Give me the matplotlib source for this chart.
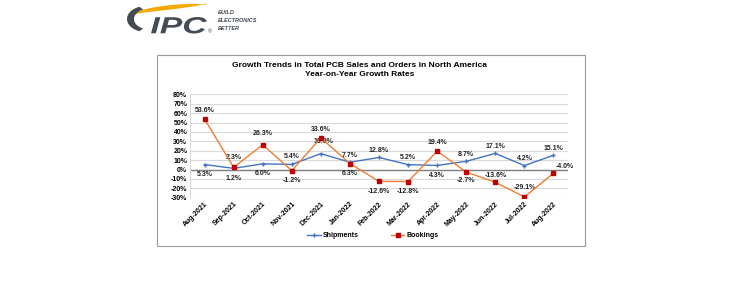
import numpy as np
import matplotlib
matplotlib.use("Agg")
import matplotlib.pyplot as plt
from matplotlib.patches import Rectangle, Polygon, PathPatch
from matplotlib.textpath import TextPath
from matplotlib.font_manager import FontProperties
from matplotlib.transforms import Affine2D

plt.rcParams['font.family'] = ['Liberation Sans', 'DejaVu Sans']

# data
months = ['Aug-2021', 'Sep-2021', 'Oct-2021', 'Nov-2021', 'Dec-2021', 'Jan-2022',
          'Feb-2022', 'Mar-2022', 'Apr-2022', 'May-2022', 'Jun-2022', 'Jul-2022',
          'Aug-2022']
shipments = [5.3, 1.2, 6.0, 5.4, 16.9, 7.7, 12.8, 5.2, 4.3, 8.7, 17.1, 4.2, 15.1]
bookings = [53.6, 2.3, 26.3, -1.2, 33.6, 6.3, -12.6, -12.8, 19.4, -2.7, -13.6, -29.1, -4.0]
yticks = list(range(-30, 81, 10))

# label offsets in points (dx, dy)
ship_off = [(0, -7), (0, -7), (0, -7), (0, 6), (2, 9), (0, 5), (0, 5), (0, 5),
            (0, -7), (0, 5), (0, 5), (0, 5), (0, 5)]
book_off = [(0, 6), (0, 7), (0, 8), (0, -7), (0, 6), (0, -7), (0, -7), (0, -7),
            (0, 6), (0, -6), (0, 5), (0, 7), (8, 5)]

W, H = 738, 300
fig = plt.figure(figsize=(W / 100, H / 100), dpi=100)
fig.patch.set_facecolor('white')

# chart border
fig.add_artist(Rectangle((157 / W, 1 - 246 / H), (585 - 157) / W, (246 - 55) / H,
                         transform=fig.transFigure, fill=False,
                         edgecolor='#9a9a9a', linewidth=0.8))

ax = fig.add_axes([190 / W, 1 - 197.7 / H, (568 - 190) / W, (197.7 - 94.3) / H])
x = np.arange(len(months))

ax.plot(x, shipments, color='#4472C4', linewidth=1.0, marker='P', markersize=3,
        markerfacecolor='#4472C4', markeredgewidth=0, label='Shipments', zorder=3)
ax.plot(x, bookings, color='#ED7D31', linewidth=1.0, marker='s', markersize=3.5,
        markerfacecolor='#C00000', markeredgecolor='#C00000', label='Bookings', zorder=4)

for i, v in enumerate(shipments):
    ax.annotate(f'{v:.1f}%', (i, v), xytext=ship_off[i], textcoords='offset points',
                ha='center', va='center', fontsize=5, fontweight='bold', color='#222222')
for i, v in enumerate(bookings):
    ax.annotate(f'{v:.1f}%', (i, v), xytext=book_off[i], textcoords='offset points',
                ha='center', va='center', fontsize=5, fontweight='bold', color='#222222')

ax.set_xlim(-0.5, len(months) - 0.5)
ax.set_ylim(-30, 80)
ax.set_yticks(yticks)
ax.set_yticklabels([f'{t}%' for t in yticks], fontsize=5, fontweight='bold')
ax.set_xticks(x)
ax.set_xticklabels(months, rotation=45, ha='right', rotation_mode='anchor',
                   fontsize=5, fontweight='bold')
ax.tick_params(length=0, pad=2)
ax.grid(axis='y', color='#d9d9d9', linewidth=0.8)
ax.axhline(0, color='#7f7f7f', linewidth=1.0, zorder=2)
for s in ['top', 'right', 'bottom']:
    ax.spines[s].set_visible(False)
ax.spines['left'].set_color('#d9d9d9')
ax.set_axisbelow(True)

fig.text(360 / W, 1 - 65.5 / H, 'Growth Trends in Total PCB Sales and Orders in North America',
         ha='center', va='center', fontsize=6.0, fontweight='bold')
fig.text(360 / W, 1 - 75 / H, 'Year-on-Year Growth Rates',
         ha='center', va='center', fontsize=6.0, fontweight='bold')

fig.legend(loc='center', bbox_to_anchor=(373 / W, 1 - 236 / H), ncol=2, frameon=False,
           prop={'weight': 'bold', 'size': 5}, handlelength=2.0,
           columnspacing=4.5, handletextpad=0.3)

# IPC logo (pixel coordinates, y down)
lax = fig.add_axes([120 / W, 1 - 40 / H, 125 / W, 40 / H])
lax.set_xlim(120, 245)
lax.set_ylim(40, 0)
lax.axis('off')
logo_grey = '#434b55'

# orange swoosh
t = np.linspace(0, 1, 100)
cx = 133 + 74 * t
cy = 15.5 - 11.5 * np.sqrt(t)
hw = 0.3 + 1.9 * np.sin(np.pi * np.clip(t * 1.1, 0, 1)) ** 0.6
top = np.column_stack([cx, cy - hw])
bot = np.column_stack([cx, cy + hw])[::-1]
lax.add_patch(Polygon(np.vstack([top, bot]), closed=True, color='#F2A900', lw=0))

# grey crescent
a = np.linspace(np.radians(110), np.radians(250), 80)
c_out = np.column_stack([146 + 19 * np.cos(a), 19 - 13 * np.sin(a)])
c_in = np.column_stack([148 + 14 * np.cos(a[::-1]), 19 - 10 * np.sin(a[::-1])])
lax.add_patch(Polygon(np.vstack([c_out, c_in]), closed=True, color=logo_grey, lw=0))

# IPC letters scaled into a box
tp = TextPath((0, 0), 'IPC', size=10,
              prop=FontProperties(family='Liberation Sans', weight='bold', style='italic'))
ext = tp.get_extents()
x0, x1, y0, y1 = 151, 207, 17, 33.5
tr = (Affine2D().translate(-ext.x0, -ext.y0)
      .scale((x1 - x0) / ext.width, -(y1 - y0) / ext.height)
      .translate(x0, y1))
lax.add_patch(PathPatch(tr.transform_path(tp), color=logo_grey, lw=0))
lax.text(209.5, 32, '®', fontsize=4, color=logo_grey, va='center', ha='center')
for yy, word in zip([13, 20.5, 28], ['BUILD', 'ELECTRONICS', 'BETTER']):
    lax.text(218, yy, word, fontsize=4.0, fontweight='bold', fontstyle='italic',
             color=logo_grey, va='center', ha='left')

fig.savefig('out.png', dpi=100)
